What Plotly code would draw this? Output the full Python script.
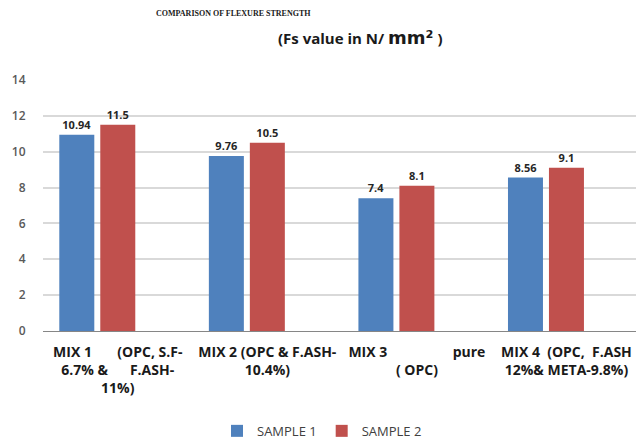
import plotly.graph_objects as go

NB = "\u00a0"

categories = ["MIX 1", "MIX 2", "MIX 3", "MIX 4"]
tick_labels = [
    "MIX 1" + NB * 7 + "(OPC, S.F-<br>6.7% &" + NB * 6 + "F.ASH-<br>11%)",
    "MIX 2 (OPC & F.ASH-<br>10.4%)",
    "MIX 3" + NB * 18 + "pure<br>( OPC)",
    "MIX 4" + NB * 2 + "(OPC," + NB * 2 + "F.ASH<br>12%& META-9.8%)",
]
sample1 = [10.94, 9.76, 7.4, 8.56]
sample2 = [11.5, 10.5, 8.1, 9.1]
series_names = ["SAMPLE 1", "SAMPLE 2"]
colors = ["#4F81BD", "#C0504D"]

SANS = "'Open Sans', Lato, sans-serif"
label_font = dict(family=SANS, size=11, color="#262626")

fig = go.Figure()
for name, vals, col in zip(series_names, [sample1, sample2], colors):
    fig.add_trace(go.Bar(
        x=categories, y=vals, name=name,
        marker=dict(color=col, line=dict(width=0)),
        text=[f"<b>{v:g}</b>" for v in vals],
        textposition="outside", textfont=label_font, cliponaxis=False,
    ))
# empty third series slot (as in the original spreadsheet chart)
fig.add_trace(go.Bar(x=categories, y=[None] * len(categories), showlegend=False,
                     hoverinfo="skip", marker=dict(color="rgba(0,0,0,0)")))

fig.update_layout(
    width=636, height=446,
    margin=dict(l=43, r=0, t=80, b=112),
    paper_bgcolor="white", plot_bgcolor="white",
    barmode="group", bargap=0.178, bargroupgap=0.146,
    showlegend=True,
    legend=dict(orientation="h", x=(322 - 43) / 593, xanchor="center", y=-0.398, yanchor="middle",
                font=dict(family=SANS, size=13, color="#404040"),
                itemwidth=30, traceorder="normal"),
    xaxis=dict(
        tickmode="array", tickvals=categories, ticktext=tick_labels,
        range=[-0.5, 3.465], showgrid=False, showline=True, linecolor="#868686",
        linewidth=1, ticks="", tickangle=0, ticklabelstandoff=8,
        tickfont=dict(family=SANS, size=14, color="#1a1a1a", weight="bold"),
    ),
    yaxis=dict(
        range=[0, 14], dtick=2, showgrid=True, gridcolor="#D9D9D9", gridwidth=1.5,
        zeroline=False, showline=False, ticks="outside", ticklen=14, tickcolor="white",
        tickfont=dict(family=SANS, size=12, color="#595959", weight=600),
    ),
    annotations=[
        dict(text="<b>COMPARISON OF FLEXURE STRENGTH</b>", xref="paper", yref="paper",
             x=(233 - 43) / 593, y=(334 - 13) / 254, xanchor="center", yanchor="middle",
             showarrow=False, font=dict(family="Liberation Serif, serif", size=8, color="#1a1a1a")),
        dict(text="<b>(Fs value in N/ <span style='font-family:DejaVu Sans;font-size:18px'>mm²</span> )</b>",
             xref="paper", yref="paper",
             x=(360 - 43) / 593, y=(334 - 37) / 254, xanchor="center", yanchor="middle",
             showarrow=False, font=dict(family=SANS, size=15, color="#1a1a1a")),
    ],
)

fig.write_html("out.html")
